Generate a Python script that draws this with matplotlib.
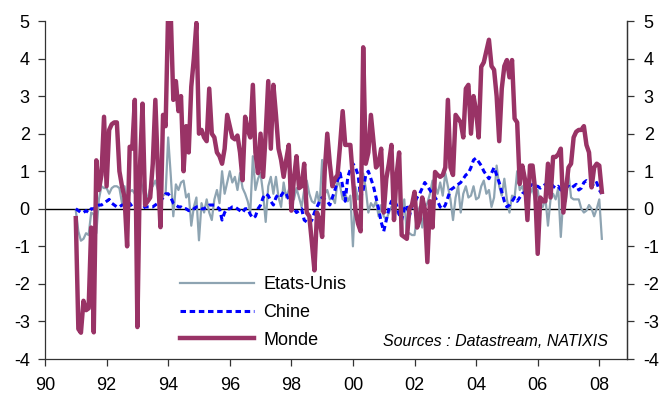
import numpy as np
import matplotlib
matplotlib.use("Agg")
import matplotlib.pyplot as plt
from matplotlib.ticker import FixedLocator

plt.rcParams['font.family'] = ['Liberation Sans', 'DejaVu Sans']

# Monthly series, January 1991 to February 2008
start_year = 1991
etats_unis = [
    -0.05, -0.6, -0.85, -0.8, -0.65, -0.7, -0.1, -0.15, -0.65, 0.25, 0.6, 0.55,   # 1991
    0.55, 0.4, 0.55, 0.6, 0.6, 0.55, 0.15, 0.6, 0.05, 0.45, 0.5, 0.4,             # 1992
    0.6, 0.85, 0.55, 0.25, 0.3, 0.55, 0.6, 0.75, 0.5, 0.25, 0.35, 0.4,            # 1993
    1.9, 0.9, -0.2, 0.65, 0.5, 0.7, 0.75, 0.3, 0.4, -0.45, 0.05, 0.3,             # 1994
    -0.84, 0.15, -0.1, 0.25, -0.1, -0.3, 0.25, 0.5, 0.15, 1.0, 0.4, 0.7,          # 1995
    1.0, 0.7, 0.85, 0.5, 0.95, 0.55, 0.4, 0.2, -0.1, 1.4, 0.5, 0.8,               # 1996
    0.95, 0.4, -0.35, 0.6, 0.85, 0.4, 0.85, 0.3, 0.05, 0.7, 0.3, 0.5,             # 1997
    0.76, 0.25, 0.55, 0.3, 0.05, 0.5, 0.75, 0.4, 0.2, 0.15, 0.45, 0.1,            # 1998
    1.3, 0.4, 0.5, 0.25, 0.3, 0.15, 0.75, 0.6, 0.25, 0.4, 0.2, 0.35,              # 1999
    -1.0, 0.58, 0.25, 0.4, 0.94, 0.55, -0.1, 0.15, 0.05, 0.2, -0.2, 0.1,          # 2000
    -0.2, -0.3, -0.1, 0.05, 0.1, -0.1, -0.15, -0.3, 0.25, -0.7, -0.65, -0.7,      # 2001
    -0.7, -0.2, 0.05, -0.5, 0.05, 0.15, 0.4, 0.75, 0.6, 0.4, 0.7, 0.35,           # 2002
    0.95, 0.6, 0.25, -0.3, 0.3, 0.6, -0.1, 0.4, 0.6, 0.3, 0.35, 0.6,              # 2003
    0.25, 0.3, 0.6, 0.75, 0.4, 0.5, 0.05, 0.3, 1.15, 0.6, 0.35, 0.8,              # 2004
    0.25, -0.1, 0.35, 0.3, 1.0, 0.5, 0.6, 0.35, 0.15, 0.4, 0.55, 0.2,             # 2005
    0.5, 0.05, 0.05, 0.3, -0.45, 0.25, 0.4, 0.25, 0.55, -0.75, 0.3, 0.2,          # 2006
    0.95, 0.3, 0.25, 0.25, 0.25, 0.0, -0.1, -0.05, 0.1, 0.0, -0.2, 0.0,           # 2007
    0.25, -0.8,                                                                   # 2008
]

chine = [
    0.0, -0.05, -0.1, -0.1, -0.05, -0.1, 0.0, 0.0, 0.05, 0.1, 0.1, 0.15,          # 1991
    0.2, 0.25, 0.15, 0.1, 0.05, 0.05, 0.1, 0.1, 0.15, 0.15, 0.05, 0.0,            # 1992
    0.0, 0.0, 0.0, 0.05, 0.05, 0.05, 0.05, 0.1, 0.15, 0.2, 0.3, 0.4,              # 1993
    0.4, 0.3, 0.15, 0.1, 0.05, 0.05, 0.0, 0.0, -0.05, -0.05, 0.0, 0.05,           # 1994
    0.05, 0.0, 0.0, 0.05, 0.1, 0.1, 0.1, 0.05, 0.0, -0.3, -0.1, 0.0,              # 1995
    0.0, 0.05, 0.05, 0.0, -0.05, -0.1, 0.0, 0.0, -0.15, -0.25, -0.2, 0.0,         # 1996
    0.1, 0.3, 0.4, 0.35, 0.2, 0.1, 0.3, 0.4, 0.35, 0.45, 0.4, 0.25,               # 1997
    0.1, 0.0, -0.1, -0.05, 0.0, -0.3, -0.35, -0.4, -0.3, -0.1, 0.05, 0.2,         # 1998
    0.3, 0.25, 0.2, 0.1, 0.3, 0.5, 0.75, 0.95, 0.6, 0.2, 0.85, 1.05,              # 1999
    1.2, 1.1, 0.9, 0.3, 0.5, 0.9, 1.0, 0.8, 0.6, 0.3, 0.0, -0.35,                 # 2000
    -0.6, -0.3, 0.0, 0.2, 0.25, 0.1, -0.15, -0.3, 0.0, 0.1, -0.2, 0.1,            # 2001
    0.15, 0.3, 0.4, 0.55, 0.7, 0.6, 0.5, 0.4, 0.3, 0.2, 0.05, 0.0,                # 2002
    0.1, 0.3, 0.5, 0.55, 0.6, 0.65, 0.7, 0.8, 0.9, 0.95, 1.1, 1.3,                # 2003
    1.35, 1.25, 1.15, 1.0, 0.9, 0.8, 0.95, 1.1, 0.9, 0.7, 0.45, 0.2,              # 2004
    0.05, 0.1, 0.2, 0.3, 0.2, 0.3, 0.4, 0.45, 0.55, 0.6, 0.65, 0.6,               # 2005
    0.6, 0.55, 0.6, 0.65, 0.7, 0.7, 0.6, 0.55, 0.6, 0.5, 0.55, 0.6,               # 2006
    0.6, 0.55, 0.6, 0.65, 0.5, 0.55, 0.7, 0.75, 0.7, 0.65, 0.6, 0.7,              # 2007
    0.5, 0.4,                                                                     # 2008
]

monde = [
    -0.25, -3.2, -3.3, -2.45, -2.7, -2.65, -0.5, -3.29, 1.29, 0.5, 0.9, 2.45,     # 1991
    0.6, 2.1, 2.25, 2.3, 2.3, 1.0, 0.6, 0.3, -1.0, 1.65, 1.6, 2.9,                # 1992
    -3.15, 1.1, 2.8, 0.1, 0.2, 0.3, 1.2, 2.9, 1.0, -0.49, 2.5, 2.2,               # 1993
    5.3, 5.2, 2.9, 3.4, 2.6, 3.0, 1.0, 2.2, 1.5, 3.25, 4.0, 4.95,                 # 1994
    2.0, 2.1, 1.9, 1.8, 3.2, 2.0, 1.9, 1.5, 1.4, 1.2, 1.6, 2.5,                   # 1995
    2.2, 1.9, 1.85, 1.95, 1.5, 0.76, 2.45, 2.1, 1.9, 3.3, 1.5, 0.95,              # 1996
    2.0, 0.85, 2.0, 3.4, 1.6, 3.3, 2.5, 1.6, 1.3, 0.85, 1.3, 1.7,                 # 1997
    -0.05, 0.8, 1.4, 0.55, 0.6, 1.2, -0.1, -0.2, -0.9, -1.64, -0.1, -0.3,         # 1998
    -0.75, 1.0, 2.0, 1.2, 0.6, 0.8, 0.9, 1.7, 2.6, 1.7, 1.7, 1.7,                 # 1999
    0.8, -0.05, -0.4, -0.6, 4.3, 1.2, 1.5, 2.5, 1.8, 1.1, 1.2, 1.6,               # 2000
    -0.1, 0.8, 1.2, 1.7, -0.3, 0.9, 1.5, -0.7, -0.75, -0.8, 0.0, 0.1,             # 2001
    0.45, -0.5, -0.3, 0.3, 0.0, -1.42, 0.2, -0.5, 0.98, 0.9, 0.85, 0.9,           # 2002
    1.1, 2.9, 1.1, 0.9, 2.5, 2.4, 2.3, 1.9, 3.2, 3.3, 2.0, 3.0,                   # 2003
    2.6, 1.9, 3.78, 3.9, 4.2, 4.5, 3.8, 3.7, 3.0, 1.8, 3.2, 3.8,                  # 2004
    3.96, 3.5, 3.96, 2.4, 2.3, 0.66, 1.15, 0.8, -0.3, 1.15, 1.15, 0.5,            # 2005
    -1.2, 0.3, 0.2, 0.2, 1.2, 0.3, 1.38, 1.38, 1.45, 1.6, -0.1, 0.5,              # 2006
    1.1, 1.2, 1.9, 2.05, 2.1, 2.1, 2.2, 1.7, 1.5, 0.57, 1.1, 1.2,                 # 2007
    1.15, 0.45,                                                                   # 2008
]

year_ticks = list(range(1990, 2009, 2))
year_labels = [f"{y % 100:02d}" for y in year_ticks]
y_ticks = list(range(-4, 6))

dates = start_year + np.arange(len(monde)) / 12.0

col_us = '#8ea4b2'
col_cn = '#0000ff'
col_wd = '#993366'

fig = plt.figure(figsize=(6.63, 3.96), dpi=100)
ax = fig.add_axes([45 / 663, 1 - 359 / 396, 582 / 663, 338 / 396])

ax.axhline(0, color='black', lw=1.0, zorder=1)
ax.plot(dates, etats_unis, color=col_us, lw=1.6, label='Etats-Unis', zorder=2)
ax.plot(dates, chine, color=col_cn, lw=2.2, dashes=(1.8, 1.2), label='Chine', zorder=3)
ax.plot(dates, monde, color=col_wd, lw=3.2, label='Monde', zorder=4,
        solid_joinstyle='round')

ax.set_xlim(1990, 2008.9)
ax.set_ylim(-4, 5)

ax.xaxis.set_major_locator(FixedLocator(year_ticks))
ax.set_xticklabels(year_labels)
ax.yaxis.set_major_locator(FixedLocator(y_ticks))
ax.set_yticklabels([str(v) for v in y_ticks])

ax.spines['top'].set_visible(False)
for side in ('left', 'right', 'bottom'):
    ax.spines[side].set_color('#333333')
    ax.spines[side].set_linewidth(0.9)

ax.tick_params(axis='x', direction='out', length=5, width=0.9, pad=8,
               labelsize=13, color='#333333')
ax.tick_params(axis='y', direction='out', length=5, width=0.9, pad=6,
               labelsize=13, color='#333333')

ax2 = ax.twinx()
ax2.set_ylim(ax.get_ylim())
ax2.yaxis.set_major_locator(FixedLocator(y_ticks))
ax2.set_yticklabels([str(v) for v in y_ticks])
ax2.tick_params(axis='y', direction='out', length=5, width=0.9, pad=7,
                labelsize=13, color='#333333')
for side in ('top', 'left', 'bottom'):
    ax2.spines[side].set_visible(False)
ax2.spines['right'].set_color('#333333')
ax2.spines['right'].set_linewidth(0.9)

leg = ax.legend(loc='upper left', bbox_to_anchor=(180 / 663, 1 - 276 / 396),
                bbox_transform=fig.transFigure, frameon=False, fontsize=13,
                handlelength=4.1, handletextpad=0.5, labelspacing=0.6,
                borderpad=0.0, borderaxespad=0.0)

ax.text(608 / 663, 1 - 341 / 396, 'Sources : Datastream, NATIXIS',
        transform=fig.transFigure, ha='right', va='center',
        fontsize=11.5, style='italic')

fig.savefig('out.png', dpi=100)
